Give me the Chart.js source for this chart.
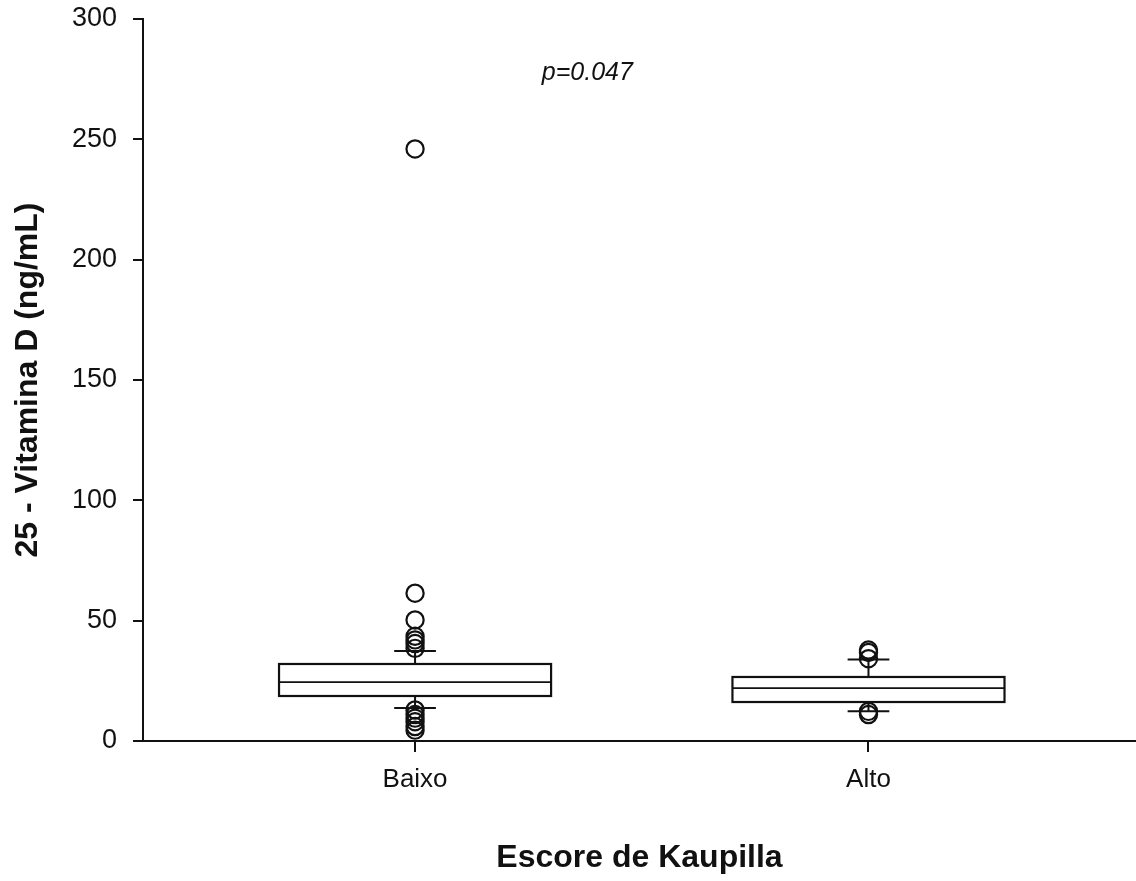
<!DOCTYPE html>
<html>
<head>
<meta charset="utf-8">
<script src="https://cdn.jsdelivr.net/npm/chart.js@4.4.1/dist/chart.umd.min.js"></script>
<style>
  html, body { margin: 0; padding: 0; background: #fff; }
  #wrap { width: 1136px; height: 881px; position: relative; }
</style>
</head>
<body>
<div id="wrap"><canvas id="c"></canvas></div>
<script>
// ---- Data ----
const categories = ['Baixo', 'Alto'];
const q1 = [18.7, 16.2];
const median = [24.5, 22.0];
const q3 = [32.0, 26.6];
const whiskerLow = [13.7, 12.4];
const whiskerHigh = [37.4, 33.9];
const outliersBaixo = [246, 61.4, 50.3, 43.5, 42, 40.5, 38.5, 12.9, 11, 9.5, 8, 6, 4.5];
const outliersAlto = [37.8, 36.8, 34.2, 12.3, 11];
const yTicks = [0, 50, 100, 150, 200, 250, 300];
const pText = 'p=0.047';

const FONT = "'Liberation Sans', Arial, Helvetica, sans-serif";
Chart.defaults.font.family = FONT;
Chart.defaults.color = '#111';

const outlierSets = [outliersBaixo, outliersAlto];

const boxPlugin = {
  id: 'boxes',
  afterDatasetsDraw(chart) {
    const ctx = chart.ctx;
    const xs = chart.scales.x, ys = chart.scales.y;
    ctx.save();
    ctx.strokeStyle = '#111';
    categories.forEach((c, i) => {
      const cx = xs.getPixelForValue(i + 1);
      const xl = xs.getPixelForValue(i + 1 - 0.3);
      const xr = xs.getPixelForValue(i + 1 + 0.3);
      const capL = xs.getPixelForValue(i + 1 - 0.046);
      const capR = xs.getPixelForValue(i + 1 + 0.046);
      const yq1 = ys.getPixelForValue(q1[i]);
      const yq3 = ys.getPixelForValue(q3[i]);
      const ym = ys.getPixelForValue(median[i]);
      const ywl = ys.getPixelForValue(whiskerLow[i]);
      const ywh = ys.getPixelForValue(whiskerHigh[i]);
      ctx.lineWidth = 2.2;
      ctx.strokeRect(xl, yq3, xr - xl, yq1 - yq3);
      ctx.lineWidth = 1.8;
      ctx.beginPath(); ctx.moveTo(xl, ym); ctx.lineTo(xr, ym); ctx.stroke();
      ctx.lineWidth = 2;
      ctx.beginPath();
      ctx.moveTo(cx, yq3); ctx.lineTo(cx, ywh);
      ctx.moveTo(capL, ywh); ctx.lineTo(capR, ywh);
      ctx.moveTo(cx, yq1); ctx.lineTo(cx, ywl);
      ctx.moveTo(capL, ywl); ctx.lineTo(capR, ywl);
      ctx.stroke();
    });
    ctx.fillStyle = '#111';
    ctx.font = 'italic 25px ' + FONT;
    ctx.textAlign = 'center';
    ctx.textBaseline = 'middle';
    ctx.fillText(pText, xs.getPixelForValue(1.38), ys.getPixelForValue(277.5));
    ctx.restore();
  }
};

new Chart(document.getElementById('c'), {
  type: 'scatter',
  data: {
    datasets: outlierSets.map((arr, i) => ({
      label: categories[i],
      data: arr.map(v => ({ x: i + 1, y: v })),
      pointStyle: 'circle',
      pointRadius: 8.6,
      pointBorderWidth: 2.2,
      borderColor: '#111',
      backgroundColor: 'rgba(0,0,0,0)'
    }))
  },
  options: {
    responsive: true,
    maintainAspectRatio: false,
    animation: false,
    layout: { autoPadding: false, padding: { top: 19, right: 0, bottom: 0, left: 0 } },
    plugins: { legend: { display: false }, tooltip: { enabled: false } },
    scales: {
      x: {
        type: 'linear',
        min: 0.4,
        max: 2.59,
        afterBuildTicks(scale) { scale.ticks = categories.map((c, i) => ({ value: i + 1 })); },
        afterFit(scale) { scale.height = 140; scale.paddingLeft = 0; scale.paddingRight = 0; },
        ticks: {
          callback: (v) => categories[Math.round(v) - 1] || '',
          font: { size: 26 },
          color: '#111',
          padding: 12,
          maxRotation: 0,
          autoSkip: false
        },
        grid: { drawOnChartArea: false, drawTicks: true, tickLength: 11, color: '#111', lineWidth: 2 },
        border: { display: true, color: '#111', width: 2 },
        title: {
          display: true,
          text: 'Escore de Kaupilla',
          font: { size: 32, weight: 'bold' },
          color: '#111',
          padding: { top: 0, bottom: 4 }
        }
      },
      y: {
        type: 'linear',
        min: 0,
        max: 300,
        afterBuildTicks(scale) { scale.ticks = yTicks.map(v => ({ value: v })); },
        afterFit(scale) { scale.width = 143; scale.paddingTop = 0; scale.paddingBottom = 0; },
        ticks: { font: { size: 27 }, color: '#111', padding: 16 },
        grid: { drawOnChartArea: false, drawTicks: true, tickLength: 10, color: '#111', lineWidth: 2 },
        border: { display: true, color: '#111', width: 2 },
        title: {
          display: true,
          text: '25 - Vitamina D (ng/mL)',
          font: { size: 32, weight: 'bold' },
          color: '#111',
          padding: { top: 9, bottom: 0 }
        }
      }
    }
  },
  plugins: [boxPlugin]
});
</script>
</body>
</html>
